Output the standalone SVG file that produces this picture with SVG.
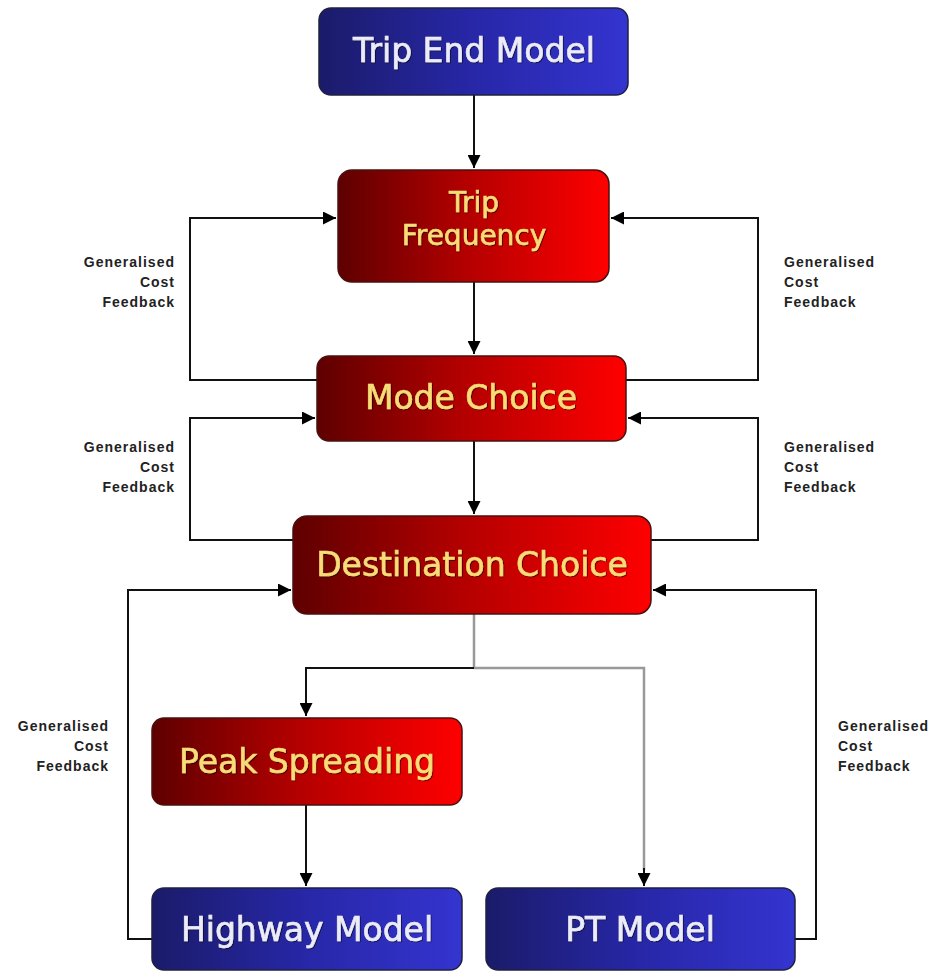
<svg xmlns="http://www.w3.org/2000/svg" width="938" height="973" viewBox="0 0 938 973">
<defs>
<linearGradient id="red" x1="0" y1="0" x2="1" y2="0">
<stop offset="0" stop-color="#5e0000"/><stop offset="0.45" stop-color="#b00000"/><stop offset="1" stop-color="#ff0000"/>
</linearGradient>
<linearGradient id="blue" x1="0" y1="0" x2="1" y2="0">
<stop offset="0" stop-color="#1b1b6a"/><stop offset="0.5" stop-color="#2727a8"/><stop offset="1" stop-color="#3434d0"/>
</linearGradient>
<filter id="sh" x="-5%" y="-20%" width="110%" height="140%">
<feDropShadow dx="0.8" dy="0.8" stdDeviation="0.7" flood-color="#000" flood-opacity="0.7"/>
</filter>
<marker id="ah" viewBox="0 0 10 10" refX="10" refY="5" markerWidth="13" markerHeight="13" markerUnits="userSpaceOnUse" orient="auto">
<path d="M0,0 L10,5 L0,10 z" fill="#000"/>
</marker>
<style>
.red{fill:url(#red);stroke:#4a1010;stroke-width:1.5}
.blue{fill:url(#blue);stroke:#202040;stroke-width:1.5}
.yt{font-family:"DejaVu Sans",Verdana,sans-serif;font-size:33px;fill:#f7dc78;stroke:#f7dc78;stroke-width:0.6;text-anchor:middle;filter:url(#sh)}
.wt{font-family:"DejaVu Sans",Verdana,sans-serif;font-size:33px;fill:#ececf8;stroke:#ececf8;stroke-width:0.6;text-anchor:middle;filter:url(#sh)}
.lbl{font-family:"Liberation Sans",Arial,sans-serif;font-size:14px;font-weight:bold;letter-spacing:1px;fill:#222}
.c{fill:none;stroke:#111;stroke-width:2}
.g{fill:none;stroke:#999;stroke-width:2.5}
</style>
</defs>
<rect width="938" height="973" fill="#fff"/>
<g id="connectors">
<path class="c" d="M474,95 V168" marker-end="url(#ah)"/>
<path class="c" d="M474,282 V354" marker-end="url(#ah)"/>
<path class="c" d="M474,441 V514" marker-end="url(#ah)"/>
<path class="c" d="M317,380 H190 V218 H336" marker-end="url(#ah)"/>
<path class="c" d="M626,380 H758 V218 H611" marker-end="url(#ah)"/>
<path class="c" d="M293,540 H190 V418 H315" marker-end="url(#ah)"/>
<path class="c" d="M651,540 H758 V418 H628" marker-end="url(#ah)"/>
<path class="c" d="M152,939 H128 V590 H291" marker-end="url(#ah)"/>
<path class="c" d="M795,939 H816 V590 H653" marker-end="url(#ah)"/>
<path class="g" d="M474,614 V668"/>
<path class="c" d="M474,668 H306 V716" marker-end="url(#ah)" stroke="#333"/>
<path class="g" d="M474,668 H644 V870"/>
<path class="c" d="M644,868 V886" marker-end="url(#ah)"/>
<path class="c" d="M306,805 V886" marker-end="url(#ah)"/>
</g>
<g id="lbl1">
<text class="lbl" text-anchor="end"><tspan x="175" y="267">Generalised</tspan><tspan x="175" y="287">Cost</tspan><tspan x="175" y="307">Feedback</tspan></text>
</g>
<g id="lbl2">
<text class="lbl"><tspan x="784" y="267">Generalised</tspan><tspan x="784" y="287">Cost</tspan><tspan x="784" y="307">Feedback</tspan></text>
</g>
<g id="lbl3">
<text class="lbl" text-anchor="end"><tspan x="175" y="452">Generalised</tspan><tspan x="175" y="472">Cost</tspan><tspan x="175" y="492">Feedback</tspan></text>
</g>
<g id="lbl4">
<text class="lbl"><tspan x="784" y="452">Generalised</tspan><tspan x="784" y="472">Cost</tspan><tspan x="784" y="492">Feedback</tspan></text>
</g>
<g id="lbl5">
<text class="lbl" text-anchor="end"><tspan x="109" y="731">Generalised</tspan><tspan x="109" y="751">Cost</tspan><tspan x="109" y="771">Feedback</tspan></text>
</g>
<g id="lbl6">
<text class="lbl"><tspan x="838" y="731">Generalised</tspan><tspan x="838" y="751">Cost</tspan><tspan x="838" y="771">Feedback</tspan></text>
</g>
<g id="trip-end-model">
<rect class="blue" x="319" y="8" width="309" height="87" rx="12"/>
<text class="wt" x="474" y="62">Trip End Model</text>
</g>
<g id="trip-frequency">
<rect class="red" x="338" y="170" width="271" height="112" rx="14"/>
<text class="yt" style="font-size:28px" x="474" y="212">Trip</text>
<text class="yt" style="font-size:28px" x="474" y="245">Frequency</text>
</g>
<g id="mode-choice">
<rect class="red" x="317" y="356" width="309" height="85" rx="12"/>
<text class="yt" x="471" y="409">Mode Choice</text>
</g>
<g id="destination-choice">
<rect class="red" x="293" y="516" width="358" height="98" rx="14"/>
<text class="yt" x="472" y="576">Destination Choice</text>
</g>
<g id="peak-spreading">
<rect class="red" x="152" y="718" width="310" height="87" rx="12"/>
<text class="yt" x="307" y="773">Peak Spreading</text>
</g>
<g id="highway-model">
<rect class="blue" x="152" y="888" width="310" height="82" rx="12"/>
<text class="wt" x="307" y="941">Highway Model</text>
</g>
<g id="pt-model">
<rect class="blue" x="486" y="888" width="309" height="82" rx="12"/>
<text class="wt" x="640" y="941">PT Model</text>
</g>
</svg>
